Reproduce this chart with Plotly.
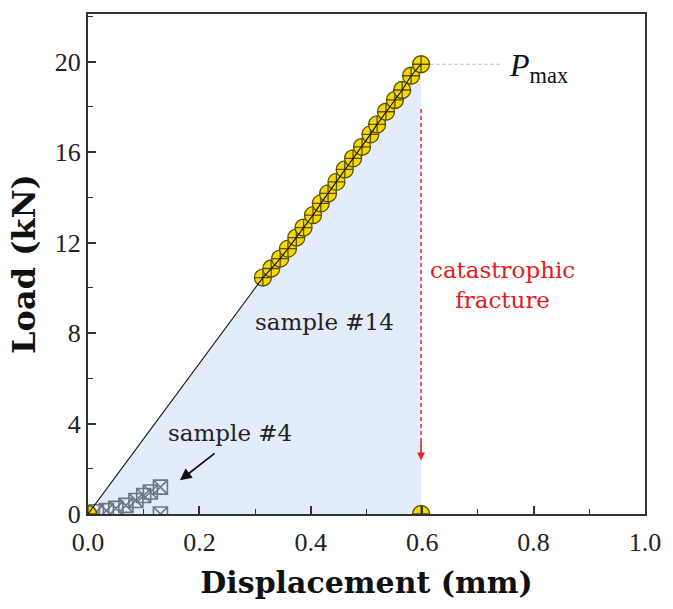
import plotly.graph_objects as go

# sample #14 (yellow circles)
s14_x = [0.314, 0.329, 0.345, 0.359, 0.374, 0.387, 0.404, 0.418, 0.431, 0.446,
         0.461, 0.476, 0.492, 0.507, 0.519, 0.535, 0.551, 0.564, 0.580, 0.598]
s14_y = [10.45, 10.85, 11.29, 11.73, 12.22, 12.66, 13.21, 13.73, 14.17, 14.68,
         15.23, 15.72, 16.23, 16.78, 17.22, 17.78, 18.30, 18.74, 19.37, 19.88]
origin = [0.0, 0.0]
fracture_x = 0.598
fracture_y = 0.0

# sample #4 (open squares with x)
s4_x = [0.015, 0.033, 0.050, 0.068, 0.086, 0.100, 0.112, 0.130, 0.130]
s4_y = [0.10, 0.15, 0.25, 0.38, 0.60, 0.82, 0.97, 1.19, 0.0]

# arrow / annotation reference values
arrow_top = 17.9
arrow_tip = 2.37
pmax_line_x = [0.615, 0.744]

x_ticks = [0.0, 0.2, 0.4, 0.6, 0.8, 1.0]
x_ticklabels = ["0.0", "0.2", "0.4", "0.6", "0.8", "1.0"]
y_ticks = [0, 4, 8, 12, 16, 20]

SERIF = "DejaVu Serif"
NUMF = "Liberation Serif"

fig = go.Figure()

# shaded area under curve
fig.add_trace(go.Scatter(
    x=[origin[0]] + s14_x + [fracture_x],
    y=[origin[1]] + s14_y + [fracture_y],
    mode="lines", fill="toself", fillcolor="#e2ecfb",
    line=dict(width=0), hoverinfo="skip", showlegend=False))

# sample #4 markers
fig.add_trace(go.Scatter(
    x=s4_x, y=s4_y, mode="markers",
    marker=dict(symbol="square-x-open", size=14, color="#6d7684",
                line=dict(width=1.6, color="#6d7684")),
    showlegend=False, cliponaxis=True))

# sample #14 markers
fig.add_trace(go.Scatter(
    x=[origin[0]] + s14_x + [fracture_x],
    y=[origin[1]] + s14_y + [fracture_y],
    mode="markers",
    marker=dict(symbol="circle-cross", size=17, color="#f4d800",
                line=dict(width=1.3, color="#5a5000")),
    showlegend=False, cliponaxis=True))

# black line
fig.add_trace(go.Scatter(
    x=[origin[0]] + s14_x, y=[origin[1]] + s14_y, mode="lines",
    line=dict(color="#111111", width=1.1), showlegend=False))

# Pmax dotted line
fig.add_trace(go.Scatter(
    x=pmax_line_x, y=[s14_y[-1], s14_y[-1]], mode="lines",
    line=dict(color="#b0b0b0", width=1, dash="dot"), showlegend=False))

# red dashed vertical line
fig.add_trace(go.Scatter(
    x=[fracture_x, fracture_x], y=[arrow_top, arrow_tip + 0.6], mode="lines",
    line=dict(color="#e8262a", width=1.5, dash="4px,3px"), showlegend=False))

fig.add_annotation(x=fracture_x, y=arrow_tip, ax=fracture_x, ay=arrow_tip + 0.9,
                   xref="x", yref="y", axref="x", ayref="y", text="",
                   showarrow=True, arrowhead=2, arrowsize=1, arrowwidth=1.6,
                   arrowcolor="#e8262a")

# sample #4 arrow
fig.add_annotation(x=0.165, y=1.49, ax=0.230, ay=2.73,
                   xref="x", yref="y", axref="x", ayref="y", text="",
                   showarrow=True, arrowhead=2, arrowsize=1.3, arrowwidth=1.8,
                   arrowcolor="#111111")

fig.add_annotation(x=0.255, y=3.6, text="sample #4", showarrow=False,
                   font=dict(family=SERIF, size=23, color="#222"))
fig.add_annotation(x=0.424, y=8.49, text="sample #14", showarrow=False,
                   font=dict(family=SERIF, size=23, color="#222"))
fig.add_annotation(x=0.744, y=10.1, text="catastrophic<br>fracture",
                   showarrow=False, align="center",
                   font=dict(family=SERIF, size=23, color="#e0201c"))
fig.add_annotation(x=0.752, y=19.75, xanchor="left",
                   text="<i>P</i><sub>max</sub>",
                   showarrow=False,
                   font=dict(family=NUMF, size=32, color="#111"))

fig.update_xaxes(
    range=[0, 1.0], tickvals=x_ticks, ticktext=x_ticklabels,
    ticks="inside", ticklen=8, tickwidth=1.6, tickcolor="#333",
    minor=dict(ticks="inside", ticklen=5, tickwidth=1.4, tickcolor="#333", dtick=0.1),
    showline=True, linecolor="#333", linewidth=2, mirror=True,
    showgrid=False, zeroline=False, ticklabelstandoff=4,
    tickfont=dict(family=NUMF, size=26, color="#222"),
    title=dict(text="<b>Displacement (mm)</b>", standoff=16,
               font=dict(family=SERIF, size=30, color="#111")))
fig.update_yaxes(
    range=[0, 22.1], tickvals=y_ticks,
    ticks="inside", ticklen=8, tickwidth=1.6, tickcolor="#333",
    minor=dict(ticks="inside", ticklen=5, tickwidth=1.4, tickcolor="#333", dtick=2),
    showline=True, linecolor="#333", linewidth=2, mirror=True,
    showgrid=False, zeroline=False,
    tickfont=dict(family=NUMF, size=26, color="#222"),
    title=dict(text="<b>Load (kN)</b>", standoff=10,
               font=dict(family=SERIF, size=32, color="#111")))

fig.update_layout(
    width=673, height=609,
    margin=dict(l=88, r=21, t=12, b=95),
    paper_bgcolor="white", plot_bgcolor="white")

fig.write_html("out.html")
